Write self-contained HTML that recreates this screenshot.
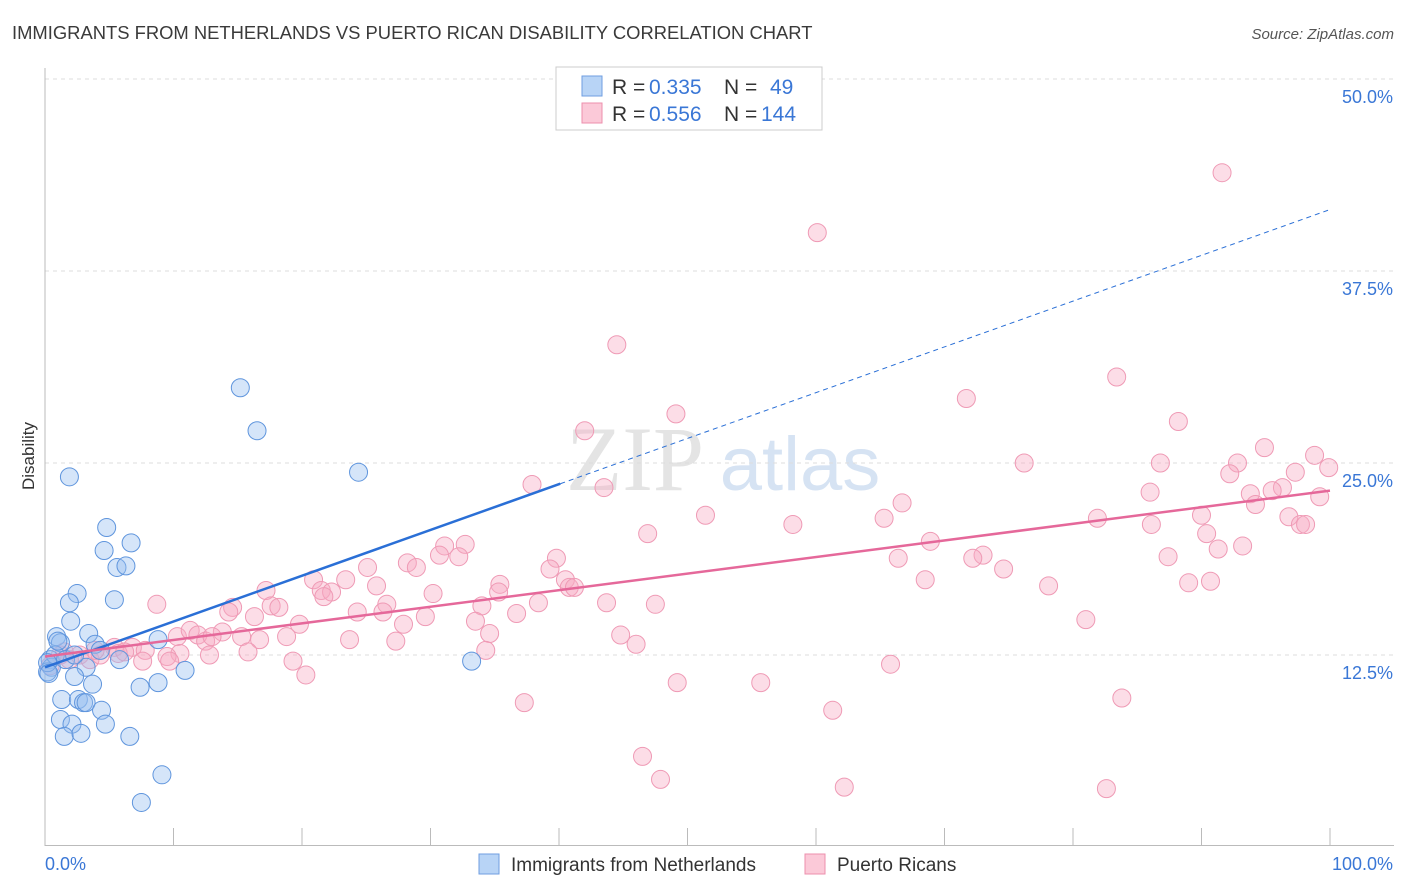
<!DOCTYPE html>
<html><head><meta charset="utf-8"><style>
body{margin:0;background:#fff;font-family:"Liberation Sans",sans-serif;}
svg{display:block}
</style></head><body>
<svg id="c" width="1406" height="892">
<text x="12" y="39" font-size="18.4" fill="#3a3a3a">IMMIGRANTS FROM NETHERLANDS VS PUERTO RICAN DISABILITY CORRELATION CHART</text>
<text x="1394" y="39" font-size="15" fill="#555" font-style="italic" text-anchor="end">Source: ZipAtlas.com</text>
<text x="34" y="456" font-size="17" fill="#333" text-anchor="middle" transform="rotate(-90 34 456)">Disability</text>
<g><text x="635" y="490" font-size="92" fill="#e4e4e4" font-family="Liberation Serif,serif" text-anchor="middle">ZIP</text><text x="800" y="490" font-size="76" fill="#d6e3f3" text-anchor="middle">atlas</text></g>
<g id="grid"></g><g id="axes"></g><g id="pts"></g><g id="trend"></g>
<g>
<rect x="556" y="67" width="266" height="63" fill="#fff" stroke="#ccc"/>
<rect x="582" y="76" width="20" height="20" fill="#b8d4f6" stroke="#6f9ee0"/>
<rect x="582" y="103" width="20" height="20" fill="#fbc9d8" stroke="#ec8fad"/>
<g font-size="21" fill="#333">
<text x="612" y="94">R =</text><text x="649" y="94" fill="#3a77d6">0.335</text><text x="724" y="94">N =</text><text x="770" y="94" fill="#3a77d6">49</text>
<text x="612" y="121">R =</text><text x="649" y="121" fill="#3a77d6">0.556</text><text x="724" y="121">N =</text><text x="761" y="121" fill="#3a77d6">144</text>
</g>
</g>
<g>
<rect x="479" y="854" width="20" height="20" fill="#b8d4f6" stroke="#6f9ee0"/>
<text x="511" y="871" font-size="19" fill="#333">Immigrants from Netherlands</text>
<rect x="805" y="854" width="20" height="20" fill="#fbc9d8" stroke="#ec8fad"/>
<text x="837" y="871" font-size="19" fill="#333">Puerto Ricans</text>
</g>
</svg>
<script>
const yTicks=[12.5,25,37.5,50];
const yTickLabels=["12.5%","25.0%","37.5%","50.0%"];
const xTicks=[0,10,20,30,40,50,60,70,80,90,100];
const blueX=[15.2,16.5,24.4,1.9,4.8,4.6,6.7,5.6,6.3,2.5,5.4,1.9,2.0,0.9,3.4,1.2,3.9,8.8,33.2,0.4,0.5,0.2,3.2,2.3,3.7,10.9,8.8,7.4,1.3,2.6,3.0,3.2,4.4,1.2,2.1,4.7,1.5,2.8,6.6,9.1,7.5,0.8,1.6,2.3,0.2,4.3,5.8,0.3,1.0];
const blueY=[29.9,27.1,24.4,24.1,20.8,19.3,19.8,18.2,18.3,16.5,16.1,15.9,14.7,13.7,13.9,13.3,13.2,13.5,12.1,12.2,11.7,11.4,11.7,11.1,10.6,11.5,10.7,10.4,9.6,9.6,9.4,9.4,8.9,8.3,8.0,8.0,7.2,7.4,7.2,4.7,2.9,12.5,12.2,12.5,12.0,12.8,12.2,11.3,13.4];
const pinkX=[91.6,60.1,44.5,83.4,71.7,49.1,42.0,88.2,94.9,98.8,76.2,86.8,92.8,99.9,97.3,92.2,37.9,43.5,86.0,93.8,96.3,95.5,99.2,66.7,94.2,51.4,65.3,81.9,90.0,96.8,58.2,86.1,97.7,98.1,46.9,90.4,68.9,93.2,91.3,31.1,32.7,30.7,32.2,39.8,73.0,66.4,87.4,72.2,28.2,28.9,39.3,25.1,74.6,68.5,40.5,89.0,90.7,20.9,23.4,25.8,17.2,21.5,22.3,21.7,35.4,35.3,40.8,41.2,30.2,78.1,26.6,34.0,38.4,43.7,47.5,8.7,14.6,17.6,18.2,24.3,26.3,14.3,16.3,29.6,36.7,33.5,27.9,19.8,81.0,10.3,11.3,13.8,11.9,12.5,13.0,15.3,16.7,18.8,23.7,27.3,34.6,44.8,46.0,5.4,6.8,7.8,5.7,6.2,10.5,15.8,9.5,34.3,7.6,9.7,12.8,19.3,20.3,65.8,49.2,55.7,83.8,37.3,61.3,46.5,47.9,62.2,82.6,1.2,1.9,2.7,3.5,4.3,0.4,3.9,1.5];
const pinkY=[43.9,40.0,32.7,30.6,29.2,28.2,27.1,27.7,26.0,25.5,25.0,25.0,25.0,24.7,24.4,24.3,23.6,23.4,23.1,23.0,23.4,23.2,22.8,22.4,22.3,21.6,21.4,21.4,21.6,21.5,21.0,21.0,21.0,21.0,20.4,20.4,19.9,19.6,19.4,19.6,19.7,19.0,18.9,18.8,19.0,18.8,18.9,18.8,18.5,18.2,18.1,18.2,18.1,17.4,17.4,17.2,17.3,17.4,17.4,17.0,16.7,16.7,16.6,16.3,17.1,16.6,16.9,16.9,16.5,17.0,15.8,15.7,15.9,15.9,15.8,15.8,15.6,15.7,15.6,15.3,15.3,15.3,15.0,15.0,15.2,14.7,14.5,14.5,14.8,13.7,14.1,14.0,13.8,13.4,13.7,13.7,13.5,13.7,13.5,13.4,13.9,13.8,13.2,13.0,13.0,12.8,12.6,12.7,12.6,12.7,12.4,12.8,12.1,12.1,12.5,12.1,11.2,11.9,10.7,10.7,9.7,9.4,8.9,5.9,4.4,3.9,3.8,12.5,12.2,12.5,12.2,12.5,11.8,12.8,12.7];
const blueTrend=[11.7,41.5];
const blueSolidEnd=[40.1];
const pinkTrend=[12.4,23.2];
const X=v=>45+v*12.85, Y=v=>847-v*15.36;
const NS="http://www.w3.org/2000/svg";
function mk(t,a,p){const e=document.createElementNS(NS,t);for(const k in a)e.setAttribute(k,a[k]);document.getElementById(p).appendChild(e);return e;}
yTicks.forEach((t,i)=>{
 const g=mk('line',{x1:45,x2:1394,y1:Y(t),y2:Y(t),stroke:'#ddd','stroke-dasharray':'4 4'},'grid');
 
 
 const l=mk('text',{x:1393,y:Y(t)+24,'font-size':18,fill:'#3a77d6','text-anchor':'end'},'axes');l.textContent=yTickLabels[i];
 
 
});
let a=mk('line',{x1:45,x2:45,y1:68,y2:846,stroke:'#bbb'},'axes');


a=mk('line',{x1:45,x2:1394,y1:845.5,y2:845.5,stroke:'#bbb'},'axes');


xTicks.forEach(t=>{const e=mk('line',{x1:X(t),x2:X(t),y1:828,y2:846,stroke:'#bbb'},'axes');
 
 });
let t0=mk('text',{x:45,y:870,'font-size':18,fill:'#3a77d6'},'axes');t0.textContent='0.0%';


t0=mk('text',{x:1393,y:870,'font-size':18,fill:'#3a77d6','text-anchor':'end'},'axes');t0.textContent='100.0%';


pinkX.forEach((x,i)=>{const c=mk('circle',{cx:X(x),cy:Y(pinkY[i]),r:9,fill:'rgba(248,170,195,0.4)',stroke:'#ef9ab5','stroke-width':1},'pts');
 
 });
blueX.forEach((x,i)=>{const c=mk('circle',{cx:X(x),cy:Y(blueY[i]),r:9,fill:'rgba(150,190,240,0.4)',stroke:'#5f95dd','stroke-width':1},'pts');
 
 });
const bAt=v=>blueTrend[0]+(blueTrend[1]-blueTrend[0])*v/100;
let l=mk('line',{x1:X(0),y1:Y(bAt(0)),x2:X(blueSolidEnd[0]),y2:Y(bAt(blueSolidEnd[0])),stroke:'#2a6fd6','stroke-width':2.5},'trend');


l=mk('line',{x1:X(blueSolidEnd[0]),y1:Y(bAt(blueSolidEnd[0])),x2:X(100),y2:Y(bAt(100)),stroke:'#2a6fd6','stroke-width':1,'stroke-dasharray':'5 4'},'trend');


l=mk('line',{x1:X(0),y1:Y(pinkTrend[0]),x2:X(100),y2:Y(pinkTrend[1]),stroke:'#e5689a','stroke-width':2.5},'trend');


</script>
</body></html>
